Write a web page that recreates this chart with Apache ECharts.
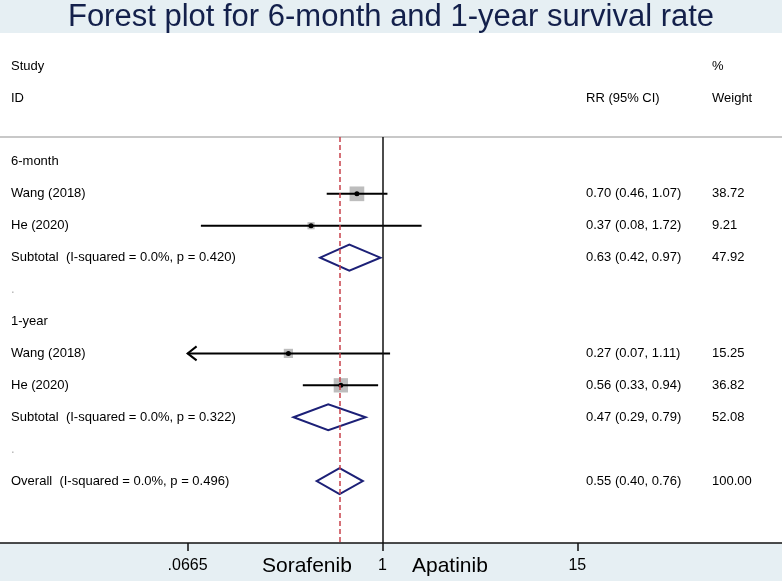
<!DOCTYPE html>
<html>
<head>
<meta charset="utf-8">
<title>Forest plot</title>
<script src="https://cdn.jsdelivr.net/npm/echarts@6.0.0/dist/echarts.min.js"></script>
<style>
    html, body { margin: 0; padding: 0; background: #fff; }
    #forest { width: 782px; height: 581px; }
</style>
</head>
<body>
<div id="forest"></div>
<script>
// 行标签（自上而下，0 为 6-month）
var rowLabels = [
    '6-month',
    'Wang (2018)',
    'He (2020)',
    'Subtotal  (I-squared = 0.0%, p = 0.420)',
    '.',
    '1-year',
    'Wang (2018)',
    'He (2020)',
    'Subtotal  (I-squared = 0.0%, p = 0.322)',
    '.',
    'Overall  (I-squared = 0.0%, p = 0.496)'
];

// 单个研究
var studyRow = [1, 2, 6, 7];
var studyRR = [0.70, 0.37, 0.27, 0.56];
var studyLo = [0.46, 0.08, 0.07, 0.33];
var studyHi = [1.07, 1.72, 1.11, 0.94];
var studyWeight = [38.72, 9.21, 15.25, 36.82];
var studyArrowLeft = [0, 0, 1, 0]; // 下限超出刻度范围，画箭头

// 合并结果（菱形）
var pooledRow = [3, 8, 10];
var pooledRR = [0.63, 0.47, 0.55];
var pooledLo = [0.42, 0.29, 0.40];
var pooledHi = [0.97, 0.79, 0.76];
var pooledWeight = [47.92, 52.08, 100.00];

// X轴刻度
var xTicks = [0.0665, 1, 15];
var xTickLabels = ['.0665', '1', '15'];
var nullValue = 1;
var overallRR = pooledRR[2];

var FONT = '"Liberation Sans", Arial, sans-serif';

// 右侧两列文字
var rrText = [];
var weightText = [];
studyRow.forEach(function (r, i) {
    rrText[r] = studyRR[i].toFixed(2) + ' (' + studyLo[i].toFixed(2) + ', ' + studyHi[i].toFixed(2) + ')';
    weightText[r] = studyWeight[i].toFixed(2);
});
pooledRow.forEach(function (r, i) {
    rrText[r] = pooledRR[i].toFixed(2) + ' (' + pooledLo[i].toFixed(2) + ', ' + pooledHi[i].toFixed(2) + ')';
    weightText[r] = pooledWeight[i].toFixed(2);
});

var ciData = studyRow.map(function (r, i) {
    var lo = studyArrowLeft[i] ? xTicks[0] : studyLo[i];
    return [lo, studyHi[i], r, studyArrowLeft[i]];
});
var squareData = studyRow.map(function (r, i) {
    return [studyRR[i], r, studyWeight[i]];
});
var dotData = studyRow.map(function (r, i) {
    return [studyRR[i], r];
});
var diamondData = pooledRow.map(function (r, i) {
    return [pooledRR[i], pooledLo[i], pooledHi[i], r];
});

var rowValues = rowLabels.map(function (s, i) { return i; });

function rowAxis(labels, margin) {
    return {
        type: 'value',
        inverse: true,
        min: -0.78,
        max: 11.94,
        position: 'left',
        offset: 0,
        axisLine: { show: false },
        axisTick: { show: false },
        splitLine: { show: false },
        axisLabel: {
            inside: true,
            align: 'left',
            margin: margin,
            customValues: rowValues,
            fontFamily: FONT,
            fontSize: 13,
            color: '#000',
            formatter: function (v) {
                var s = labels[Math.round(v)];
                if (s === undefined) return '';
                return s === '.' ? '{dot|.}' : s;
            },
            rich: {
                dot: { color: '#b0b0b0', fontSize: 13, fontFamily: FONT }
            }
        }
    };
}

function renderCI(params, api) {
    var y = api.value(2);
    var p1 = api.coord([api.value(0), y]);
    var p2 = api.coord([api.value(1), y]);
    var children = [{
        type: 'line',
        shape: { x1: p1[0], y1: p1[1], x2: p2[0], y2: p2[1] },
        style: { stroke: '#000', lineWidth: 2 }
    }];
    if (api.value(3)) {
        children.push({
            type: 'polyline',
            shape: { points: [[p1[0] + 9, p1[1] - 7], [p1[0], p1[1]], [p1[0] + 9, p1[1] + 7]] },
            style: { stroke: '#000', lineWidth: 2, fill: null }
        });
    }
    return { type: 'group', children: children };
}

function renderDiamond(params, api) {
    var y = api.value(3);
    var c = api.coord([api.value(0), y]);
    var lo = api.coord([api.value(1), y]);
    var hi = api.coord([api.value(2), y]);
    return {
        type: 'polygon',
        shape: { points: [[lo[0], c[1]], [c[0], c[1] - 13], [hi[0], c[1]], [c[0], c[1] + 13]] },
        style: { stroke: '#1c2077', lineWidth: 2, fill: null }
    };
}

var forestChart = echarts.init(document.getElementById('forest'));

var forestOption = {
    animation: false,
    textStyle: { fontFamily: FONT },
    graphic: [
        { type: 'rect', left: 0, top: 0, z: -10, shape: { width: 782, height: 33 }, style: { fill: '#e6eff3' } },
        { type: 'rect', left: 0, top: 543, z: -10, shape: { width: 782, height: 38 }, style: { fill: '#e6eff3' } }
    ],
    title: [
        {
            text: 'Forest plot for 6-month and 1-year survival rate',
            left: 'center', top: 2, padding: 0,
            textStyle: { fontFamily: FONT, fontSize: 31, fontWeight: 'normal', color: '#13204b' }
        },
        { text: 'Study', left: 11, top: 60, padding: 0, textStyle: { fontFamily: FONT, fontSize: 13, fontWeight: 'normal', color: '#000' } },
        { text: 'ID', left: 11, top: 92, padding: 0, textStyle: { fontFamily: FONT, fontSize: 13, fontWeight: 'normal', color: '#000' } },
        { text: 'RR (95% CI)', left: 586, top: 92, padding: 0, textStyle: { fontFamily: FONT, fontSize: 13, fontWeight: 'normal', color: '#000' } },
        { text: '%', left: 712, top: 60, padding: 0, textStyle: { fontFamily: FONT, fontSize: 13, fontWeight: 'normal', color: '#000' } },
        { text: 'Weight', left: 712, top: 92, padding: 0, textStyle: { fontFamily: FONT, fontSize: 13, fontWeight: 'normal', color: '#000' } },
        { text: 'Sorafenib', left: 262, top: 556, padding: 0, textStyle: { fontFamily: FONT, fontSize: 21, fontWeight: 'normal', color: '#000' } },
        { text: 'Apatinib', left: 412, top: 556, padding: 0, textStyle: { fontFamily: FONT, fontSize: 21, fontWeight: 'normal', color: '#000' } }
    ],
    grid: {
        left: 0,
        right: 0,
        top: 137,
        bottom: 38,
        containLabel: false,
        outerBoundsMode: 'none'
    },
    xAxis: [{
        type: 'log',
        logBase: 10,
        min: 0.0049,
        max: 258,
        position: 'bottom',
        axisLine: { onZero: false, lineStyle: { color: '#111', width: 1.5 } },
        axisTick: { length: 8, customValues: xTicks, lineStyle: { color: '#111', width: 1.5 } },
        minorTick: { show: false },
        splitLine: { show: false },
        axisLabel: {
            margin: 15,
            customValues: xTicks,
            fontFamily: FONT,
            fontSize: 16,
            color: '#000',
            formatter: function (v) {
                for (var i = 0; i < xTicks.length; i++) {
                    if (Math.abs(v - xTicks[i]) < 1e-6 * xTicks[i]) return xTickLabels[i];
                }
                return '';
            }
        }
    }, {
        type: 'log',
        logBase: 10,
        min: 0.0049,
        max: 258,
        position: 'top',
        axisLine: { onZero: false, lineStyle: { color: '#c8c8c8', width: 2 } },
        axisTick: { show: false },
        axisLabel: { show: false },
        splitLine: { show: false }
    }],
    yAxis: [
        rowAxis(rowLabels, 11),
        rowAxis(rrText, 586),
        rowAxis(weightText, 712)
    ],
    series: [{
        name: 'weight',
        type: 'scatter',
        symbol: 'rect',
        z: 1,
        silent: true,
        symbolSize: function (val) { return 2.36 * Math.sqrt(val[2]); },
        itemStyle: { color: '#bdbdbd', opacity: 1 },
        data: squareData
    }, {
        name: 'ci',
        type: 'custom',
        z: 2,
        silent: true,
        renderItem: renderCI,
        encode: { x: [0, 1], y: 2 },
        data: ciData,
        markLine: {
            silent: true,
            symbol: ['none', 'none'],
            label: { show: false },
            data: [
                { xAxis: nullValue, lineStyle: { color: '#111', width: 1.5, type: 'solid' } },
                { xAxis: overallRR, lineStyle: { color: '#c8414b', width: 1.5, type: [5, 3] } }
            ]
        }
    }, {
        name: 'point',
        type: 'scatter',
        symbol: 'circle',
        symbolSize: 5,
        z: 3,
        silent: true,
        itemStyle: { color: '#000', opacity: 1 },
        data: dotData
    }, {
        name: 'pooled',
        type: 'custom',
        z: 3,
        silent: true,
        renderItem: renderDiamond,
        encode: { x: [0, 1, 2], y: 3 },
        data: diamondData
    }]
};

forestChart.setOption(forestOption);

window.addEventListener('resize', function () {
    forestChart.resize();
});
</script>
</body>
</html>
